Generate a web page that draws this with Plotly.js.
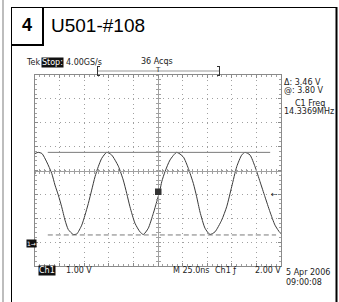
<!DOCTYPE html>
<html>
<head>
<meta charset="utf-8">
<script src="https://cdn.plot.ly/plotly-3.0.1.min.js"></script>
<style>html,body{margin:0;padding:0;background:#fff;}#chart{width:339px;height:302px;}</style>
</head>
<body>
<div id="chart"></div>
<script>
// ---- data ----
const timeNs = [-125,-121.7,-117.9,-113.1,-108.0,-104.7,-101.3,-97.9,-94.5,-91.2,-86.1,-82.6,-77.5,-74.2,-70.8,-67.4,-64.0,-60.7,-57.2,-52.1,-47.1,-40.3,-35.3,-31.8,-28.5,-23.4,-18.3,-14.9,-9.9,-4.8,-1.3,2.0,3.8,7.1,12.2,19.0,25.7,30.8,35.9,39.3,42.7,47.8,52.8,57.9,64.7,69.8,74.9,80.0,85.1,88.4,93.5,98.6,103.7,108.7,113.8,118.9,124.0,125];
const ch1Volts = [3.75,3.80,3.75,3.40,2.92,2.43,2.01,1.52,0.96,0.57,0.36,0.38,0.75,1.17,1.66,2.22,2.78,3.20,3.55,3.80,3.69,3.22,2.64,2.08,1.52,0.83,0.47,0.36,0.62,1.24,1.73,2.22,2.57,2.99,3.48,3.80,3.61,3.13,2.50,1.94,1.30,0.62,0.36,0.47,0.96,1.52,2.36,3.20,3.69,3.80,3.69,3.20,2.57,1.94,1.31,0.75,0.43,0.40];
const cursorVolts = [3.80, 0.34];          // solid cursor, dashed cursor
const cursorSpanNs = [-112, 114];
const triggerLevelVolts = [2.05];
const groundVolts = [0];
const xRangeNs = [-125, 125];
const yRangeVolts = [-0.96, 7.04];

const headerNumber = '4';
const headerTitle = 'U501-#108';
const topTexts = ['Tek', 'Stop:', '4.00GS/s', '36 Acqs'];
const readoutTexts = ['\u0394: 3.46 V', '@: 3.80 V', 'C1 Freq', '14.3369MHz'];
const bottomTexts = ['Ch1', '1.00 V', 'M 25.0ns', 'Ch1 \u0192', '2.00 V', '5 Apr 2006', '09:00:08'];

// ---- layout helpers (pixel -> paper) ----
const L = 35, T = 75, W = 246, H = 191;
const PX = x => (x - L) / W;
const PY = y => (T + H - y) / H;
const FONT = 'DejaVu Sans';
const INK = '#222';

function txt(text, x, y, o) {
  o = o || {};
  return Object.assign({
    text: text, xref: 'paper', yref: 'paper', x: PX(x), y: PY(y),
    xanchor: 'left', yanchor: 'middle', showarrow: false,
    font: {family: FONT, size: 8, color: INK}, borderpad: 0
  }, o);
}
function pline(x0, y0, x1, y1, color, width, dash) {
  return {type: 'line', xref: 'paper', yref: 'paper', x0: PX(x0), y0: PY(y0), x1: PX(x1), y1: PY(y1),
    line: {color: color, width: width, dash: dash || 'solid'}, layer: 'above'};
}

const gridColor = '#a0a0a0';
const frameColor = '#8a8a8a';

const data = [
  {x: timeNs, y: ch1Volts, type: 'scatter', mode: 'lines', line: {color: '#3a3a3a', width: 1, shape: 'spline', smoothing: 0.6}, hoverinfo: 'skip'},
  {x: [], y: [], xaxis: 'x2', yaxis: 'y2', type: 'scatter', mode: 'lines'},
  {x: [], y: [], xaxis: 'x3', yaxis: 'y3', type: 'scatter', mode: 'lines'}
];

const baseX = {range: xRangeNs, showticklabels: false, zeroline: false, fixedrange: true};
const baseY = {range: yRangeVolts, showticklabels: false, zeroline: false, fixedrange: true};

const shapes = [
  // outer page frame
  pline(3, 0, 3, 302, '#bdbdbd', 2),
  pline(11.5, 7, 11.5, 302, '#000', 1),
  pline(11, 7.5, 337, 7.5, '#000', 1),
  pline(336.5, 7, 336.5, 302, '#000', 2),
  // header number box
  pline(43, 7, 43, 46, '#000', 2),
  pline(11, 45, 44, 45, '#000', 2),
  // record bar
  pline(97, 71, 220, 71, '#999', 1),
  pline(97.5, 66, 97.5, 76, '#333', 1),
  pline(97, 66.5, 100, 66.5, '#333', 1),
  pline(97, 75.5, 100, 75.5, '#333', 1),
  pline(219.5, 66, 219.5, 76, '#333', 1),
  pline(217, 66.5, 220, 66.5, '#333', 1),
  pline(217, 75.5, 220, 75.5, '#333', 1),
  // cursors
  {type: 'line', xref: 'x', yref: 'y', x0: cursorSpanNs[0], x1: cursorSpanNs[1], y0: cursorVolts[0], y1: cursorVolts[0], line: {color: '#7a7a7a', width: 1}},
  {type: 'line', xref: 'x', yref: 'y', x0: cursorSpanNs[0], x1: cursorSpanNs[1] + 6, y0: cursorVolts[1], y1: cursorVolts[1], line: {color: '#7a7a7a', width: 1, dash: '5px,3px'}},
  // waveform marker at centre
  {type: 'rect', xref: 'paper', yref: 'paper', x0: PX(155), x1: PX(161.5), y0: PY(195), y1: PY(188.5), fillcolor: '#333', line: {width: 0}, layer: 'above'}
];

const annotations = [
  txt('<b>' + headerNumber + '</b>', 27, 25, {xanchor: 'center', font: {family: 'Liberation Sans', size: 18, color: '#000'}}),
  txt(headerTitle, 50, 25, {font: {family: 'Liberation Sans', size: 19, color: '#000'}}),
  txt(topTexts[0], 25, 62),
  txt(topTexts[1], 41, 62, {bgcolor: '#111', font: {family: FONT, size: 8, color: '#fff'}}),
  txt(topTexts[2], 65, 62),
  txt(topTexts[3], 157, 61, {xanchor: 'center'}),
  txt('T', 158, 70.5, {xanchor: 'center', font: {family: FONT, size: 7, color: '#333'}}),
  txt(readoutTexts[0], 283, 82),
  txt(readoutTexts[1], 283, 90),
  txt(readoutTexts[2], 310, 103, {xanchor: 'center'}),
  txt(readoutTexts[3], 283, 111.5),
  txt(bottomTexts[0], 38, 270, {bgcolor: '#111', font: {family: FONT, size: 8, color: '#fff'}}),
  txt(bottomTexts[1], 65, 270),
  txt(bottomTexts[2], 172, 270),
  txt(bottomTexts[3], 214, 270),
  txt(bottomTexts[4], 254, 270),
  txt(bottomTexts[5], 285, 272),
  txt(bottomTexts[6], 285, 282),
  // ground marker
  {text: '1\u2192', xref: 'paper', yref: 'y', x: PX(26), y: groundVolts[0], xanchor: 'left', yanchor: 'middle', showarrow: false,
   bgcolor: '#111', borderpad: 0, font: {family: FONT, size: 6, color: '#fff'}},
  // trigger level arrow
  {text: '\u2190', xref: 'paper', yref: 'y', x: PX(280), y: triggerLevelVolts[0], xanchor: 'right', yanchor: 'middle', showarrow: false,
   font: {family: FONT, size: 8, color: '#222'}}
];

const layout = {
  width: 339, height: 302, autosize: false,
  margin: {l: L, r: 339 - L - W, t: T, b: 302 - T - H, pad: 0},
  paper_bgcolor: '#fff', plot_bgcolor: '#fff', showlegend: false,
  xaxis: Object.assign({}, baseX, {
    dtick: 25, tick0: 0, showgrid: true, gridcolor: gridColor, gridwidth: 1, griddash: '1px,3.78px',
    showline: true, mirror: 'ticks', linecolor: frameColor, linewidth: 1,
    ticks: 'inside', ticklen: 3, tickcolor: frameColor,
    minor: {dtick: 5, tick0: 0, ticks: 'inside', ticklen: 2, tickcolor: gridColor, showgrid: false}
  }),
  yaxis: Object.assign({}, baseY, {
    dtick: 1, tick0: 0.04, showgrid: true, gridcolor: gridColor, gridwidth: 1, griddash: '1px,3.92px',
    showline: true, mirror: 'ticks', linecolor: frameColor, linewidth: 1,
    ticks: 'inside', ticklen: 3, tickcolor: frameColor,
    minor: {dtick: 0.2, tick0: 0.04, ticks: 'inside', ticklen: 2, tickcolor: gridColor, showgrid: false}
  }),
  xaxis2: Object.assign({}, baseX, {overlaying: 'x', anchor: 'free', position: 0.5, showgrid: false, showline: true, linecolor: gridColor,
    ticks: 'outside', ticklen: 2, dtick: 5, tick0: 0, tickcolor: gridColor}),
  xaxis3: Object.assign({}, baseX, {overlaying: 'x', anchor: 'free', position: 0.5, showgrid: false, showline: false,
    ticks: 'inside', ticklen: 2, dtick: 5, tick0: 0, tickcolor: gridColor}),
  yaxis2: Object.assign({}, baseY, {overlaying: 'y', anchor: 'free', position: 0.5, showgrid: false, showline: true, linecolor: gridColor,
    ticks: 'outside', ticklen: 2, dtick: 0.2, tick0: 0.04, tickcolor: gridColor}),
  yaxis3: Object.assign({}, baseY, {overlaying: 'y', anchor: 'free', position: 0.5, showgrid: false, showline: false,
    ticks: 'inside', ticklen: 2, dtick: 0.2, tick0: 0.04, tickcolor: gridColor}),
  shapes: shapes,
  annotations: annotations
};

Plotly.newPlot('chart', data, layout, {staticPlot: true, displayModeBar: false});
</script>
</body>
</html>
